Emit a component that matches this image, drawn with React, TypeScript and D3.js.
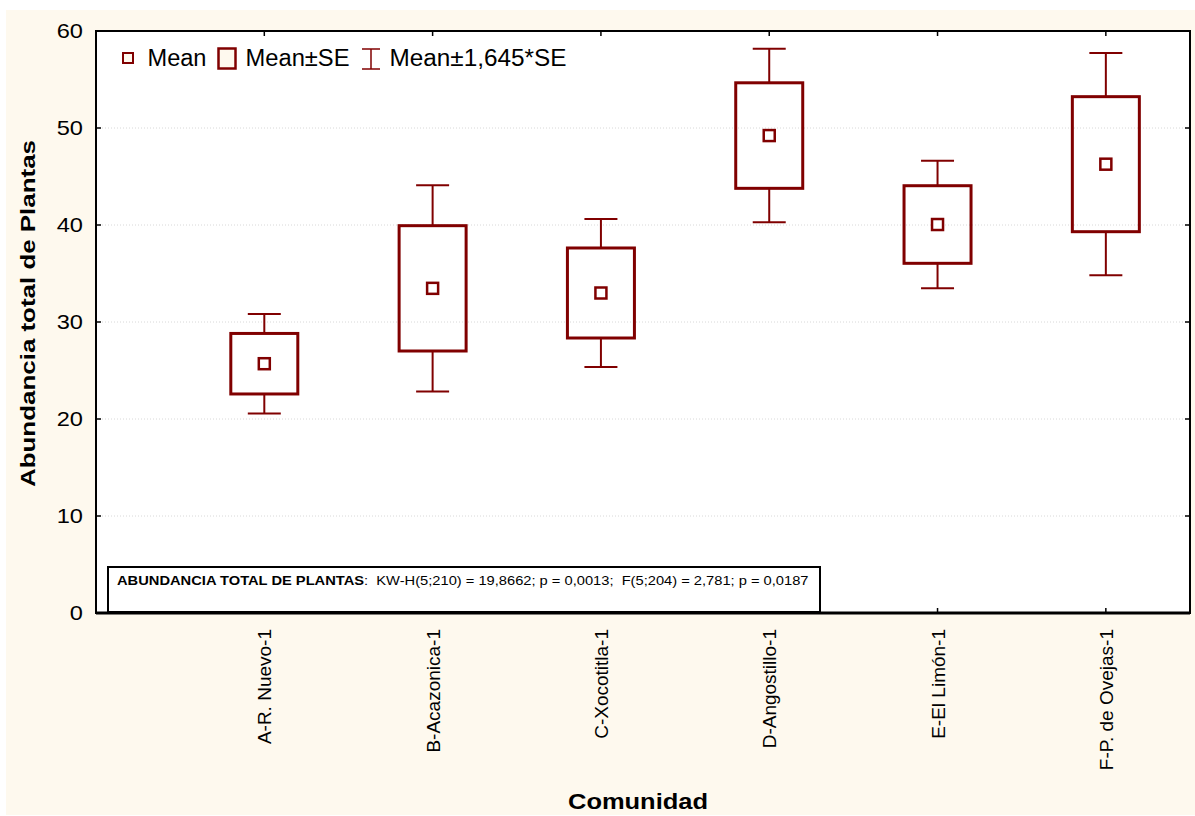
import React, { useEffect, useRef } from "react";
import * as d3 from "d3";

// Community names and their plant-abundance statistics
const categories = [
  "A-R. Nuevo-1",
  "B-Acazonica-1",
  "C-Xocotitla-1",
  "D-Angostillo-1",
  "E-El Limón-1",
  "F-P. de Ovejas-1",
];
const means = [25.7, 33.47, 32.99, 49.22, 40.05, 46.27];
const stdErrors = [3.12, 6.46, 4.64, 5.44, 4.0, 6.96];
const ciFactor = 1.645;
const yTicks = [0, 10, 20, 30, 40, 50, 60];

const W = 1195;
const H = 816;
const M = { left: 96, right: 1190, top: 31, bottom: 613 };
const RED = "#800000";
const CREAM = "#fef9ee";
const FONT = "Arial, 'Liberation Sans', sans-serif";

export default function App() {
  const ref = useRef<SVGSVGElement | null>(null);

  useEffect(() => {
    const svg = d3.select(ref.current);
    svg.selectAll("*").remove();

    const x = d3.scaleLinear().domain([0, categories.length + 0.5]).range([M.left, M.right]);
    const y = d3.scaleLinear().domain([0, 60]).range([M.bottom, M.top]);

    // page background
    svg.append("rect").attr("x", 6).attr("y", 10).attr("width", W - 6).attr("height", 805).attr("fill", CREAM);
    svg.append("rect")
      .attr("x", M.left).attr("y", M.top)
      .attr("width", M.right - M.left).attr("height", M.bottom - M.top)
      .attr("fill", "#fff");

    // dotted grid
    svg.append("g").selectAll("line").data(yTicks.filter((t) => t > 0 && t < 60)).join("line")
      .attr("x1", M.left).attr("x2", M.right)
      .attr("y1", (d) => y(d)).attr("y2", (d) => y(d))
      .attr("stroke", "#d8d8d8").attr("stroke-width", 1).attr("stroke-dasharray", "1,2");

    // boxes, whiskers and means
    const g = svg.append("g");
    categories.forEach((_, i) => {
      const cx = x(i + 1);
      const m = means[i];
      const se = stdErrors[i];
      const lo = m - ciFactor * se;
      const hi = m + ciFactor * se;
      const bw = 67;
      const cw = 33;
      g.append("line").attr("x1", cx).attr("x2", cx).attr("y1", y(hi)).attr("y2", y(m + se))
        .attr("stroke", RED).attr("stroke-width", 2);
      g.append("line").attr("x1", cx).attr("x2", cx).attr("y1", y(m - se)).attr("y2", y(lo))
        .attr("stroke", RED).attr("stroke-width", 2);
      g.append("line").attr("x1", cx - cw / 2).attr("x2", cx + cw / 2).attr("y1", y(hi)).attr("y2", y(hi))
        .attr("stroke", RED).attr("stroke-width", 2);
      g.append("line").attr("x1", cx - cw / 2).attr("x2", cx + cw / 2).attr("y1", y(lo)).attr("y2", y(lo))
        .attr("stroke", RED).attr("stroke-width", 2);
      g.append("rect")
        .attr("x", cx - bw / 2).attr("y", y(m + se))
        .attr("width", bw).attr("height", y(m - se) - y(m + se))
        .attr("fill", "none").attr("stroke", RED).attr("stroke-width", 3);
      g.append("rect")
        .attr("x", cx - 5.5).attr("y", y(m) - 5.5).attr("width", 11).attr("height", 11)
        .attr("fill", "#fff").attr("stroke", RED).attr("stroke-width", 2.5);
    });

    // frame
    svg.append("rect")
      .attr("x", M.left).attr("y", M.top)
      .attr("width", M.right - M.left).attr("height", M.bottom - M.top)
      .attr("fill", "none").attr("stroke", "#000").attr("stroke-width", 2);

    // y ticks (both sides, inward) and labels
    const yt = svg.append("g");
    yTicks.forEach((t) => {
      yt.append("line").attr("x1", M.left).attr("x2", M.left + 5).attr("y1", y(t)).attr("y2", y(t)).attr("stroke", "#000").attr("stroke-width", 1.5);
      yt.append("line").attr("x1", M.right - 5).attr("x2", M.right).attr("y1", y(t)).attr("y2", y(t)).attr("stroke", "#000").attr("stroke-width", 1.5);
      yt.append("text")
        .attr("transform", `translate(83,${y(t) + 7}) scale(1.18,1)`)
        .attr("text-anchor", "end").attr("font-family", FONT).attr("font-size", 20).attr("fill", "#000")
        .text(String(t));
    });

    // x ticks and rotated category labels
    const xt = svg.append("g");
    categories.forEach((c, i) => {
      const cx = x(i + 1);
      xt.append("line").attr("x1", cx).attr("x2", cx).attr("y1", M.top).attr("y2", M.top + 5).attr("stroke", "#000").attr("stroke-width", 1.5);
      xt.append("line").attr("x1", cx).attr("x2", cx).attr("y1", M.bottom - 5).attr("y2", M.bottom).attr("stroke", "#000").attr("stroke-width", 1.5);
      xt.append("text")
        .attr("transform", `translate(${cx + 7},${M.bottom + 16}) rotate(-90)`)
        .attr("text-anchor", "end").attr("font-family", FONT).attr("font-size", 19).attr("fill", "#000")
        .text(c);
    });

    // axis titles
    svg.append("text")
      .attr("transform", `translate(35,313.5) rotate(-90)`)
      .attr("text-anchor", "middle").attr("font-family", FONT).attr("font-size", 21).attr("font-weight", "bold")
      .attr("textLength", 347).attr("lengthAdjust", "spacingAndGlyphs")
      .text("Abundancia total de Plantas");
    svg.append("text")
      .attr("x", 638).attr("y", 809)
      .attr("text-anchor", "middle").attr("font-family", FONT).attr("font-size", 22).attr("font-weight", "bold")
      .attr("textLength", 140).attr("lengthAdjust", "spacingAndGlyphs")
      .text("Comunidad");

    // legend
    const lg = svg.append("g").attr("font-family", FONT).attr("font-size", 23).attr("fill", "#000");
    lg.append("rect").attr("x", 123).attr("y", 53).attr("width", 10).attr("height", 10)
      .attr("fill", CREAM).attr("stroke", RED).attr("stroke-width", 2);
    lg.append("text").attr("x", 147.5).attr("y", 66)
      .attr("textLength", 59).attr("lengthAdjust", "spacingAndGlyphs").text("Mean");
    lg.append("rect").attr("x", 218.5).attr("y", 48.5).attr("width", 17).attr("height", 20)
      .attr("fill", CREAM).attr("stroke", RED).attr("stroke-width", 2.5);
    lg.append("text").attr("x", 245.5).attr("y", 66)
      .attr("textLength", 104).attr("lengthAdjust", "spacingAndGlyphs").text("Mean±SE");
    lg.append("line").attr("x1", 371).attr("x2", 371).attr("y1", 49).attr("y2", 69).attr("stroke", RED).attr("stroke-width", 1.5);
    lg.append("line").attr("x1", 362).attr("x2", 380).attr("y1", 49).attr("y2", 49).attr("stroke", RED).attr("stroke-width", 1.5);
    lg.append("line").attr("x1", 362).attr("x2", 380).attr("y1", 69).attr("y2", 69).attr("stroke", RED).attr("stroke-width", 1.5);
    lg.append("text").attr("x", 389.5).attr("y", 66)
      .attr("textLength", 177).attr("lengthAdjust", "spacingAndGlyphs").text("Mean±1,645*SE");

    // statistics box
    svg.append("rect").attr("x", 108).attr("y", 567).attr("width", 712).attr("height", 45)
      .attr("fill", "#fff").attr("stroke", "#000").attr("stroke-width", 2);
    const st = svg.append("text").attr("transform", "translate(117,585) scale(1.13,1)")
      .attr("font-family", FONT).attr("font-size", 13).attr("fill", "#000")
      .style("white-space", "pre");
    st.append("tspan").attr("font-weight", "bold").text("ABUNDANCIA TOTAL DE PLANTAS");
    st.append("tspan").text(":  KW-H(5;210) = 19,8662; p = 0,0013;  F(5;204) = 2,781; p = 0,0187");

    // heavy x axis line
    svg.append("line").attr("x1", M.left).attr("x2", M.right).attr("y1", M.bottom).attr("y2", M.bottom)
      .attr("stroke", "#000").attr("stroke-width", 3);
  }, []);

  return (
    <svg ref={ref} width={W} height={H} style={{ display: "block", position: "absolute", left: 0, top: 0 }} />
  );
}
